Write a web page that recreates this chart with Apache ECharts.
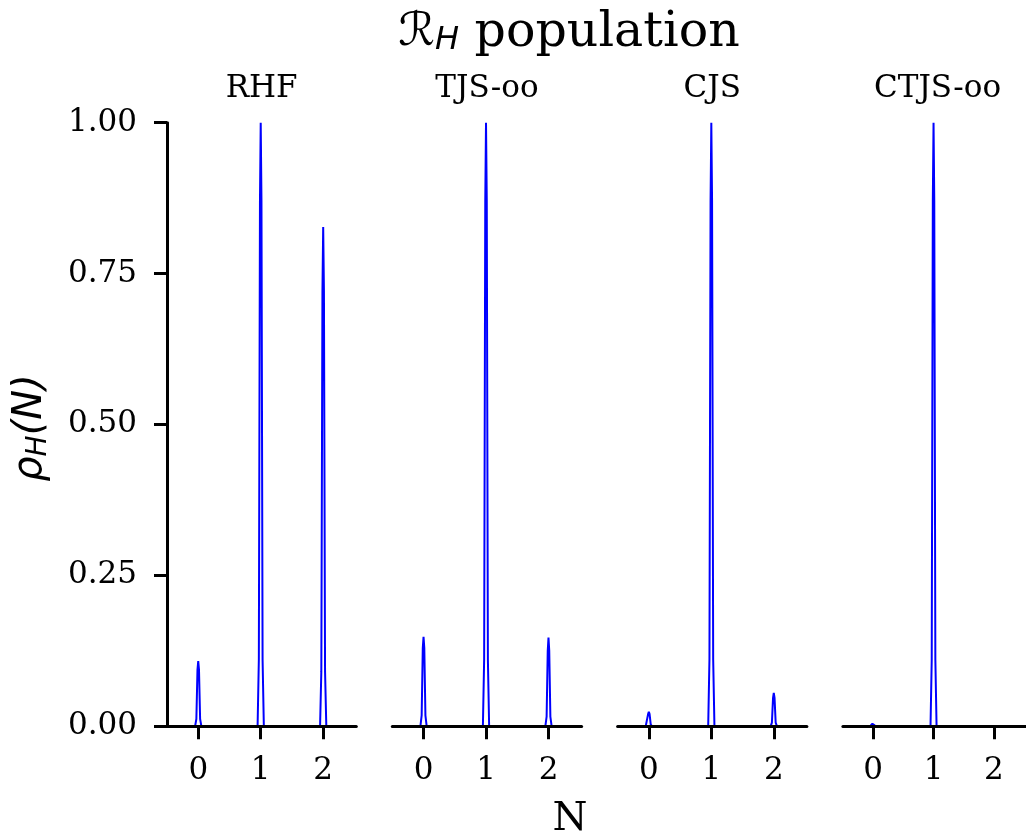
<!DOCTYPE html>
<html lang="en">
<head>
    <meta charset="UTF-8">
    <title>R_H population</title>
    <script src="https://cdn.jsdelivr.net/npm/echarts@6/dist/echarts.min.js"></script>
    <style>
        html, body { margin: 0; padding: 0; background: #fff; }
        #chart { width: 1026px; height: 837px; }
    </style>
</head>
<body>
<div id="chart"></div>
<script>
  // 面板标题
  var panelTitles = ['RHF', 'TJS-oo', 'CJS', 'CTJS-oo'];
  // N 采样点（三个峰：0、1、2；0.5 和 1.5 处断开）
  var nValues = [-0.5, -0.05, -0.03, -0.012, 0, 0.012, 0.03, 0.05, 0.5,
    0.95, 0.97, 0.988, 1, 1.012, 1.03, 1.05, 1.5,
    1.95, 1.97, 1.988, 2, 2.012, 2.03, 2.05, 2.53];
  // 各方法的 rho_H(N)
  var rhoRHF = [0, 0, 0.012, 0.094, 0.108, 0.094, 0.012, 0, null,
    0, 0.11, 0.87, 1.0, 0.87, 0.11, 0, null,
    0, 0.09, 0.72, 0.827, 0.72, 0.09, 0, 0];
  var rhoTJS = [0, 0, 0.018, 0.13, 0.148, 0.13, 0.018, 0, null,
    0, 0.11, 0.87, 1.0, 0.87, 0.11, 0, null,
    0, 0.016, 0.125, 0.147, 0.125, 0.016, 0, 0];
  var rhoCJS = [0, 0, 0.003, 0.02, 0.024, 0.02, 0.003, 0, null,
    0, 0.11, 0.87, 1.0, 0.87, 0.11, 0, null,
    0, 0.006, 0.047, 0.055, 0.047, 0.006, 0, 0];
  var rhoCTJS = [0, 0, 0.001, 0.004, 0.005, 0.004, 0.001, 0, null,
    0, 0.11, 0.87, 1.0, 0.87, 0.11, 0, null,
    0, 0, 0, 0.001, 0, 0, 0, 0];
  var xTicks = [0, 1, 2];
  var yTicks = [0, 0.25, 0.5, 0.75, 1];

  var panels = [rhoRHF, rhoTJS, rhoCJS, rhoCTJS];
  var serif = 'DejaVu Serif';

  var grids = [], xAxes = [], yAxes = [], series = [], titles = [];
  var gridLeft0 = 167, gridStep = 225.3, gridW = 189.3, gridTop = 122.7, gridH = 603.5;

  panels.forEach(function (vals, i) {
    var left = gridLeft0 + gridStep * i;
    grids.push({ left: left, top: gridTop, width: gridW, height: gridH });
    xAxes.push({
      gridIndex: i,
      type: 'value',
      min: -0.5,
      max: 2.53,
      z: 5,
      axisLine: { onZero: false, lineStyle: { color: '#000', width: 3 } },
      axisTick: { customValues: xTicks, length: 13, lineStyle: { color: '#000', width: 3 } },
      axisLabel: { customValues: xTicks, margin: 29, fontFamily: serif, fontSize: 31, color: '#000' },
      splitLine: { show: false }
    });
    yAxes.push({
      gridIndex: i,
      type: 'value',
      min: yTicks[0],
      max: yTicks[yTicks.length - 1],
      interval: 0.25,
      show: i === 0,
      z: 5,
      axisLine: { show: true, onZero: false, lineStyle: { color: '#000', width: 3 } },
      axisTick: { show: true, length: 13, lineStyle: { color: '#000', width: 3 } },
      axisLabel: {
        margin: 30, fontFamily: serif, fontSize: 31, color: '#000',
        formatter: function (v) { return v.toFixed(2); }
      },
      splitLine: { show: false }
    });
    series.push({
      type: 'line',
      xAxisIndex: i,
      yAxisIndex: i,
      z: 1,
      showSymbol: false,
      connectNulls: false,
      clip: true,
      lineStyle: { color: '#0000ff', width: 2 },
      data: nValues.map(function (n, k) { return [n, vals[k] === null ? '-' : vals[k]]; })
    });
    titles.push({
      text: panelTitles[i],
      left: left + gridW / 2,
      top: 73,
      padding: 0,
      textAlign: 'center',
      textStyle: { fontFamily: serif, fontSize: 31, fontWeight: 'normal', color: '#000' }
    });
  });

  titles.push({
    text: '{r|ℛ}{h|H}{p| population}',
    left: 569,
    top: 9,
    padding: 0,
    textAlign: 'center',
    textStyle: {
      fontWeight: 'normal',
      rich: {
        r: { fontFamily: 'DejaVu Sans', fontStyle: 'italic', fontWeight: 'normal', fontSize: 46, color: '#000' },
        h: { fontFamily: 'DejaVu Sans', fontStyle: 'italic', fontWeight: 'normal', fontSize: 32, color: '#000', padding: [15, 0, 0, 0] },
        p: { fontFamily: serif, fontWeight: 'normal', fontSize: 49, color: '#000' }
      }
    }
  });

  var options = {
    animation: false,
    backgroundColor: '#fff',
    title: titles,
    grid: grids,
    xAxis: xAxes,
    yAxis: yAxes,
    series: series,
    graphic: [
      {
        type: 'text',
        x: 31,
        y: 428,
        rotation: Math.PI / 2,
        style: {
          text: '{i|ρ}{s|H}{i|(N)}',
          align: 'center',
          verticalAlign: 'middle',
          rich: {
            i: { fontFamily: 'DejaVu Sans', fontStyle: 'italic', fontSize: 40, fill: '#000' },
            s: { fontFamily: 'DejaVu Sans', fontStyle: 'italic', fontSize: 28, fill: '#000', padding: [16, 0, 0, 0] }
          }
        }
      },
      {
        type: 'text',
        x: 570,
        y: 820,
        style: {
          text: 'N',
          align: 'center',
          verticalAlign: 'middle',
          fontFamily: serif,
          fontSize: 40,
          fill: '#000'
        }
      }
    ]
  };

  var myChart = echarts.init(document.getElementById('chart'));
  myChart.setOption(options);
</script>
</body>
</html>
